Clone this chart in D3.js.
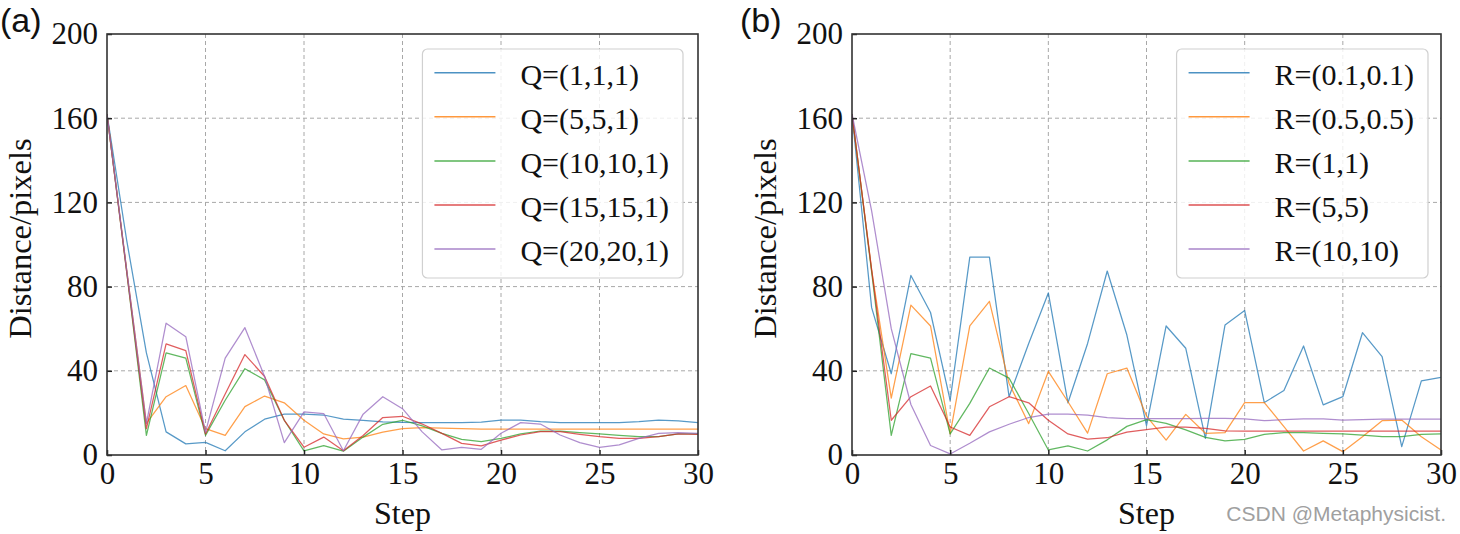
<!DOCTYPE html>
<html>
<head>
<meta charset="utf-8">
<script src="https://cdn.jsdelivr.net/npm/d3@7"></script>
<style>
  html, body { margin: 0; padding: 0; background: #fff; }
  svg { display: block; }
</style>
</head>
<body>
<svg id="chart" width="1460" height="534"></svg>
<script>
// ---------------- data ----------------
const steps = [0,1,2,3,4,5,6,7,8,9,10,11,12,13,14,15,16,17,18,19,20,21,22,23,24,25,26,27,28,29,30];
const xTicks = [0, 5, 10, 15, 20, 25, 30];
const yTicks = [0, 40, 80, 120, 160, 200];

const labelsA = ["Q=(1,1,1)", "Q=(5,5,1)", "Q=(10,10,1)", "Q=(15,15,1)", "Q=(20,20,1)"];
const q111   = [162,102,48.5,11,5.3,6,2,11,17,19.4,19.4,19,17,16.5,15.7,15.5,15.4,15.4,15.4,15.6,16.6,16.6,15.8,15.4,15.4,15.4,15.4,15.8,16.6,16.2,15.4];
const q551   = [162,88,15,27.7,33,12.5,9.3,23,28,24.8,16.5,10,7.7,8.5,10.9,12.5,13,12.8,12.5,12.3,12.3,12.3,12.3,12.3,12.3,12.3,12.3,12.3,12.3,12.3,12.3];
const q10101 = [162,87,9.3,48.5,46,9.3,26,41,35.7,16.5,2,4.5,1.8,8.5,14.6,16.5,13.8,10.3,7.4,6.3,7.9,10,11.4,11.4,10.6,10,9.3,8.7,8.7,10,10];
const q15151 = [162,87,12.5,52.8,49.6,10,29,47.7,37.3,16.5,3.7,8.5,2,9.3,17.8,18.4,14.7,10.3,5.5,4.3,7.1,9.5,11.1,11.1,9.8,8.7,7.9,7.9,8.7,10,9.8];
const q20201 = [162,88,15,62.6,56.2,10.9,46,60.5,37.3,5.9,20.5,19.7,2,19.4,27.7,22,11,2.4,3.6,2.7,10.3,15.4,14.7,9.5,5.9,3.6,4.8,7.9,10.3,10.6,10.3];

const labelsB = ["R=(0.1,0.1)", "R=(0.5,0.5)", "R=(1,1)", "R=(5,5)", "R=(10,10)"];
const r01   = [162,70,38.6,85.3,67.7,26,94,94,27.7,53,77,24.8,53,87.4,57,14,61.3,50.7,7.9,61.8,68.6,24.9,30.6,51.8,23.8,27.7,58.1,46.7,4,35.2,36.9];
const r05   = [162,88,27,71.2,61.3,10,61.3,73,34,14.9,39.7,25.3,10.4,38.6,41.3,18.5,7.1,19.3,10.3,10.6,24.9,24.9,13.5,1.9,6.7,1.6,8.7,16.3,16.6,8.7,2.4];
const r11   = [162,87,9.3,48.2,46,10,24.5,41.3,36.5,19.7,2.4,4.3,1.9,7.2,13.6,16.8,15,11.9,8.4,6.7,7.4,9.8,10.6,10.6,10.3,10,9.5,8.7,8.7,9.8,10];
const r55   = [162,88,16.5,27.7,32.8,13.3,9.3,22.9,27.7,24.8,16.5,10,7.5,8.2,10.9,12,13.2,13.2,12.7,11.5,11.4,11.4,11.4,11.4,11.4,11.4,11.4,11.4,11.4,11.4,11.4];
const r1010 = [162,116,60,24,4.5,0.5,5.6,11,14.6,17.8,19.4,19.4,18.9,17.8,17.3,17.3,17.3,17.3,17.4,17.4,17.2,16.3,16.8,17.2,17.2,16.6,16.8,17,17,17,17];

const colors = ["#1f77b4", "#ff7f0e", "#2ca02c", "#d62728", "#9467bd"];

// ---------------- drawing ----------------
const svg = d3.select("#chart");
const SERIF = "'Liberation Serif','Times New Roman',serif";
const SANS = "'Liberation Sans',Arial,sans-serif";

function panel(opts) {
  const { left, right, top, bottom, series, labels, tag, tagX, legendRightInset } = opts;
  const x = d3.scaleLinear().domain([0, 30]).range([left, right]);
  const y = d3.scaleLinear().domain([0, 200]).range([bottom, top]);
  const g = svg.append("g");
  const clipId = "clip" + tag.replace(/\W/g, "");
  svg.append("clipPath").attr("id", clipId)
    .append("rect").attr("x", left).attr("y", top).attr("width", right - left).attr("height", bottom - top);

  // grid
  g.append("g").selectAll("line").data(xTicks.slice(1, -1)).join("line")
    .attr("x1", d => x(d)).attr("x2", d => x(d)).attr("y1", top).attr("y2", bottom)
    .attr("stroke", "#a8a8a8").attr("stroke-width", 1).attr("stroke-dasharray", "4,3");
  g.append("g").selectAll("line").data(yTicks.slice(1, -1)).join("line")
    .attr("y1", d => y(d)).attr("y2", d => y(d)).attr("x1", left).attr("x2", right)
    .attr("stroke", "#a8a8a8").attr("stroke-width", 1).attr("stroke-dasharray", "4,3");

  // lines
  const line = d3.line().x((d, i) => x(steps[i])).y(d => y(d));
  const lg = g.append("g").attr("clip-path", `url(#${clipId})`);
  series.forEach((s, k) => {
    lg.append("path").attr("d", line(s)).attr("fill", "none")
      .attr("stroke", colors[k]).attr("stroke-width", 1.25).attr("stroke-opacity", 0.75)
      .attr("stroke-linejoin", "round");
  });

  // axes
  const xa = g.append("g").attr("transform", `translate(0,${bottom})`)
    .call(d3.axisBottom(x).tickValues(xTicks).tickFormat(d3.format("d")).tickSizeInner(-5).tickSizeOuter(0).tickPadding(7));
  const ya = g.append("g").attr("transform", `translate(${left},0)`)
    .call(d3.axisLeft(y).tickValues(yTicks).tickFormat(d3.format("d")).tickSizeInner(-5).tickSizeOuter(0).tickPadding(9));
  [xa, ya].forEach(a => {
    a.select(".domain").remove();
    a.selectAll(".tick line").attr("stroke", "#222").attr("stroke-width", 1.5);
    a.selectAll("text").attr("font-family", SERIF).attr("font-size", 31).attr("fill", "#111");
  });

  // frame
  g.append("rect").attr("x", left).attr("y", top).attr("width", right - left).attr("height", bottom - top)
    .attr("fill", "none").attr("stroke", "#333").attr("stroke-width", 1.6);

  // axis labels
  g.append("text").attr("x", (left + right) / 2).attr("y", 524).attr("text-anchor", "middle")
    .attr("font-family", SERIF).attr("font-size", 32).attr("fill", "#111").text("Step");
  g.append("text").attr("transform", `translate(${left - 76},${(top + bottom) / 2 - 6}) rotate(-90)`)
    .attr("text-anchor", "middle").attr("font-family", SERIF).attr("font-size", 32.5).attr("fill", "#111")
    .text("Distance/pixels");

  // panel tag
  g.append("text").attr("x", tagX).attr("y", 32).attr("font-family", SANS).attr("font-size", 34)
    .attr("fill", "#111").text(tag);

  // legend
  const leg = g.append("g");
  const rowH = 44.1, padL = 12, handle = 61, gap = 25, padR = 14;
  const box = leg.append("rect");
  const texts = [];
  labels.forEach((lab, k) => {
    const cy = top + 38.7 + k * rowH;
    leg.append("line").attr("class", "h")
      .attr("y1", cy).attr("y2", cy).attr("stroke", colors[k]).attr("stroke-width", 1.5).attr("stroke-opacity", 0.8);
    texts.push(leg.append("text").attr("y", cy).attr("dy", "0.4em")
      .attr("font-family", SERIF).attr("font-size", 30).attr("fill", "#111").text(lab));
  });
  const maxW = d3.max(texts, t => t.node().getComputedTextLength());
  const boxW = padL + handle + gap + maxW + padR;
  const boxRight = right - legendRightInset;
  const boxLeft = boxRight - boxW;
  box.attr("x", boxLeft).attr("y", top + 15).attr("width", boxW).attr("height", 229)
    .attr("rx", 5).attr("fill", "#fff").attr("fill-opacity", 0.82).attr("stroke", "#d0d0d0").attr("stroke-width", 1.2);
  leg.selectAll("line.h").attr("x1", boxLeft + padL).attr("x2", boxLeft + padL + handle);
  texts.forEach(t => t.attr("x", boxLeft + padL + handle + gap));
}

panel({ left: 107, right: 698, top: 34, bottom: 455,
  series: [q111, q551, q10101, q15151, q20201], labels: labelsA, tag: "(a)", tagX: 0, legendRightInset: 15 });
panel({ left: 852, right: 1441, top: 34, bottom: 455,
  series: [r01, r05, r11, r55, r1010], labels: labelsB, tag: "(b)", tagX: 740, legendRightInset: 13 });

// watermark
svg.append("text").attr("x", 1446).attr("y", 521).attr("text-anchor", "end")
  .attr("font-family", SANS).attr("font-size", 21).attr("fill", "#a0a0a0").text("CSDN @Metaphysicist.");
</script>
</body>
</html>
